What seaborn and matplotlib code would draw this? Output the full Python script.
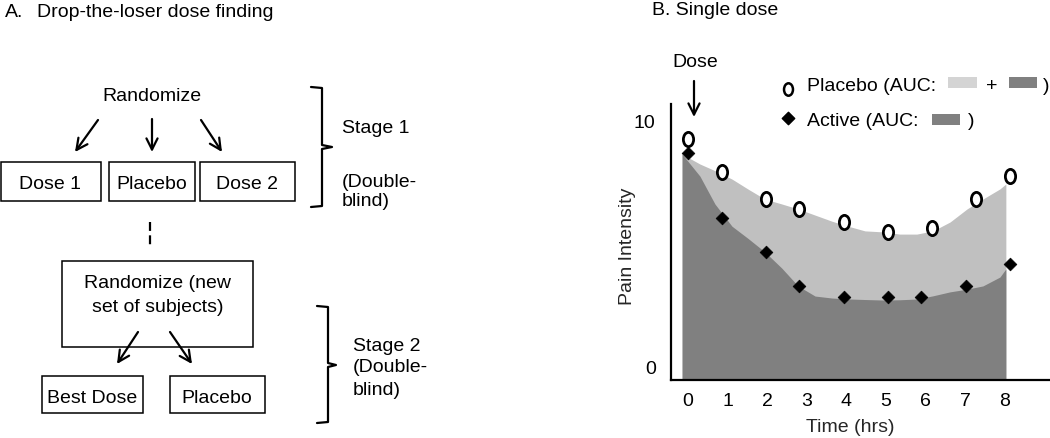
import numpy as np
import pandas as pd
import seaborn as sns
import matplotlib
matplotlib.use('Agg')  # no display
import matplotlib.pyplot as plt
from matplotlib.path import Path
from matplotlib.transforms import Affine2D
from matplotlib.patches import Rectangle

# Panel B data (time in hrs, pain intensity 0-10)
placebo_time = [0, 0.86, 1.97, 2.80, 3.94, 5.05, 6.16, 7.27, 8.13]
placebo_pain = [9.23, 7.89, 6.80, 6.40, 5.87, 5.47, 5.63, 6.80, 7.73]
active_time = [0, 0.86, 1.97, 2.80, 3.94, 5.05, 5.88, 7.02, 8.13]
active_pain = [8.66, 6.03, 4.66, 3.28, 2.83, 2.83, 2.83, 3.28, 4.17]

# outlines of the shaded AUC areas
fill_time = [-0.15, 0.30, 0.68, 1.11, 1.52, 1.94, 2.37, 2.78, 3.21, 3.64, 4.09,
             4.47, 4.92, 5.35, 5.78, 6.19, 6.62, 7.05, 7.45, 7.88, 8.03]
fill_active = [8.62, 7.73, 6.60, 5.70, 5.20, 4.66, 4.00, 3.28, 2.87, 2.79, 2.75,
               2.73, 2.71, 2.72, 2.75, 2.88, 3.04, 3.15, 3.28, 3.64, 3.97]
fill_placebo = [8.62, 8.22, 7.95, 7.61, 7.20, 6.80, 6.60, 6.40, 6.15, 5.90, 5.68,
                5.51, 5.47, 5.38, 5.38, 5.51, 5.87, 6.40, 6.80, 7.21, 7.41]

x_ticks = [0, 1, 2, 3, 4, 5, 6, 7, 8]
y_ticks = [0, 10]

sns.set_theme(style="white")
plt.rcParams['font.family'] = ['Liberation Sans', 'DejaVu Sans']
FS = 14
DARK = '#808080'
LIGHT = '#c0c0c0'

fig = plt.figure(figsize=(10.5, 4.39), dpi=100)

# ---- panel B axes ----
ax = fig.add_axes([671 / 1050, (439 - 381) / 439, 378 / 1050, 276 / 439])
ax.set_xlim(-0.43, 9.12)
ax.set_ylim(-0.53, 10.65)
bottom = ax.get_ylim()[0]
ax.fill_between(fill_time, bottom, fill_placebo, color=LIGHT, lw=0, zorder=1)
ax.fill_between(fill_time, bottom, fill_active, color=DARK, lw=0, zorder=2)

ellipse = Affine2D().scale(0.72, 1.0).transform_path(Path.unit_circle())
df_p = pd.DataFrame({'time': placebo_time, 'pain': placebo_pain})
df_a = pd.DataFrame({'time': active_time, 'pain': active_pain})
sns.scatterplot(data=df_p, x='time', y='pain', marker=ellipse, s=105,
                color='white', edgecolor='black', linewidth=2, zorder=3, ax=ax)
sns.scatterplot(data=df_a, x='time', y='pain', marker='D', s=42,
                color='black', edgecolor='black', linewidth=0.5, zorder=4, ax=ax)

for side in ['top', 'right']:
    ax.spines[side].set_visible(False)
for side in ['left', 'bottom']:
    ax.spines[side].set_linewidth(1.6)
    ax.spines[side].set_color('black')
ax.set_xticks(x_ticks)
ax.set_yticks(y_ticks)
ax.tick_params(axis='both', length=0, labelsize=FS, colors='black')
ax.tick_params(axis='x', pad=9)
ax.tick_params(axis='y', pad=11)
ax.set_xlabel('Time (hrs)', fontsize=FS)
ax.set_ylabel('Pain Intensity', fontsize=FS)
ax.xaxis.set_label_coords(0.474, -0.17)
ax.xaxis.label.set_va('center')
ax.yaxis.set_label_coords(-0.116, 0.489)
ax.yaxis.label.set_va('center')
ax.grid(False)

# ---- overlay in pixel coordinates for the diagram and annotations ----
ov = fig.add_axes([0, 0, 1, 1])
ov.set_xlim(0, 1050)
ov.set_ylim(439, 0)
ov.axis('off')


def txt(x, y, s, ha='center'):
    ov.text(x, y, s, ha=ha, va='baseline', fontsize=FS, color='black')


def box(x0, y0, x1, y1):
    ov.add_patch(Rectangle((x0, y0), x1 - x0, y1 - y0, fill=False,
                           edgecolor='black', lw=1.1))


def arrow(x0, y0, x1, y1):
    ov.annotate('', xy=(x1, y1), xytext=(x0, y0),
                arrowprops=dict(arrowstyle='->', lw=1.6, color='black',
                                mutation_scale=20, shrinkA=0, shrinkB=0))


def bracket(x_in, x_v, x_tip, y_top, y_mid, y_bot):
    ov.plot([x_in, x_v, x_v, x_tip, x_v, x_v, x_in],
            [y_top, y_top + 1, y_mid - 2, y_mid, y_mid + 2, y_bot - 1, y_bot],
            color='black', lw=1.6, solid_joinstyle='round')


# panel A
txt(5, 17, 'A.', ha='left')
txt(37, 17, 'Drop-the-loser dose finding', ha='left')
txt(152, 101, 'Randomize')
arrow(98, 121, 75, 153)
arrow(152, 120, 152, 153)
arrow(201, 121, 222, 153)
box(1, 163, 101, 202)
box(109, 163, 195, 202)
box(200, 163, 295, 202)
txt(50, 189, 'Dose 1')
txt(152, 189, 'Placebo')
txt(247, 189, 'Dose 2')
bracket(311, 322, 332, 88, 148, 208)
txt(342, 133, 'Stage 1', ha='left')
txt(342, 187, '(Double-', ha='left')
txt(342, 206, 'blind)', ha='left')

ov.plot([150, 150], [223, 248], color='black', lw=1.6, linestyle=(0, (4, 2)))
box(62, 262, 253, 348)
txt(158, 288, 'Randomize (new')
txt(158, 312, 'set of subjects)')
arrow(138, 333, 117, 365)
arrow(170, 333, 192, 365)
box(42, 377, 143, 414)
box(170, 377, 265, 414)
txt(92, 403, 'Best Dose')
txt(217, 403, 'Placebo')
bracket(317, 328, 336, 307, 366, 424)
txt(353, 351, 'Stage 2', ha='left')
txt(353, 372, '(Double-', ha='left')
txt(353, 395, 'blind)', ha='left')

# panel B annotations
txt(652, 15, 'B. Single dose', ha='left')
txt(695, 67, 'Dose')
arrow(694, 82, 694, 118)

ov.scatter([788], [90], marker=ellipse, s=80, facecolor='white',
           edgecolor='black', linewidth=1.8)
ov.scatter([788], [119], marker='D', s=40, color='black')
txt(807, 91, 'Placebo (AUC:', ha='left')
ov.add_patch(Rectangle((948, 78), 29, 11, color='#d4d4d4', lw=0))
txt(992, 91, '+')
ov.add_patch(Rectangle((1009, 78), 28, 11, color=DARK, lw=0))
txt(1046, 91, ')')
txt(807, 126, 'Active (AUC:', ha='left')
ov.add_patch(Rectangle((932, 115), 28, 11, color=DARK, lw=0))
txt(971, 126, ')')

fig.savefig('out.png', dpi=100)
